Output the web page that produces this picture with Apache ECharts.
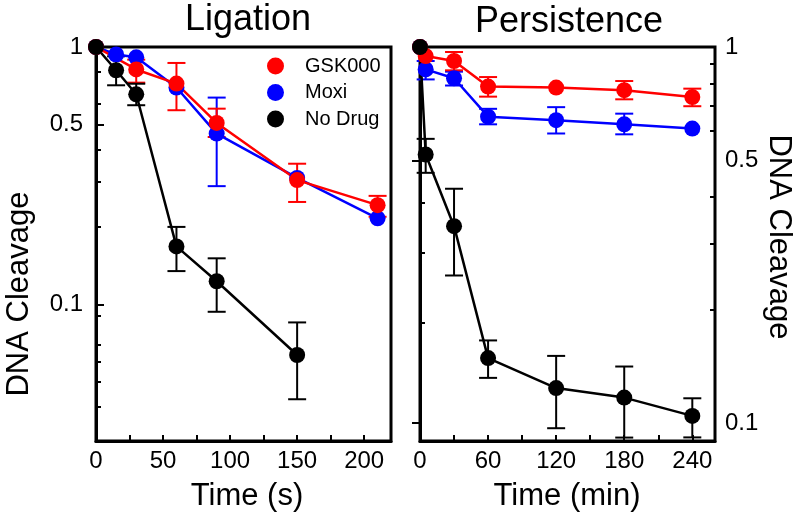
<!DOCTYPE html>
<html>
<head>
<meta charset="utf-8">
<script src="https://cdn.jsdelivr.net/npm/echarts@6/dist/echarts.min.js"></script>
<style>
html,body{margin:0;padding:0;background:#fff;}
#chart{width:800px;height:519px;}
</style>
</head>
<body>
<div id="chart"></div>
<script>
// ---------- Ligation panel (time in s) ----------
const ligGskTime  = [0, 30, 60, 90, 150, 210];
const ligGsk      = [1.0, 0.818, 0.721, 0.507, 0.304, 0.243];
const ligGskLo    = [null, 0.727, 0.568, 0.447, 0.25, 0.219];
const ligGskHi    = [null, 0.893, 0.867, 0.576, 0.352, 0.264];

const ligMoxiTime = [0, 15, 30, 60, 90, 150, 210];
const ligMoxi     = [1.0, 0.935, 0.912, 0.696, 0.461, 0.31, 0.216];
const ligMoxiLo   = [null, null, null, null, 0.288, null, null];
const ligMoxiHi   = [null, null, null, null, 0.636, null, null];

const ligNoTime   = [0, 15, 30, 60, 90, 150];
const ligNo       = [1.0, 0.812, 0.655, 0.168, 0.123, 0.0636];
const ligNoLo     = [null, 0.71, 0.594, 0.1347, 0.0936, 0.0428];
const ligNoHi     = [null, 0.92, 0.72, 0.2, 0.151, 0.0851];

// ---------- Persistence panel (time in min) ----------
const perTime     = [0, 5, 30, 60, 120, 180, 240];
const perGsk      = [1.0, 0.946, 0.918, 0.785, 0.78, 0.768, 0.736];
const perGskLo    = [null, null, 0.867, 0.738, null, 0.726, 0.696];
const perGskHi    = [null, null, 0.97, 0.832, null, 0.812, 0.775];
const perMoxi     = [1.0, 0.872, 0.826, 0.653, 0.639, 0.623, 0.607];
const perMoxiLo   = [null, 0.82, 0.79, 0.623, 0.589, 0.586, null];
const perMoxiHi   = [null, 0.918, 0.86, 0.685, 0.692, 0.665, null];
const perNo       = [1.0, 0.518, 0.334, 0.149, 0.124, 0.117, 0.1046];
const perNoLo     = [null, 0.463, 0.247, 0.132, 0.097, 0.0916, 0.0917];
const perNoHi     = [null, 0.57, 0.42, 0.166, 0.151, 0.1415, 0.1165];

// ---------- ticks & labels ----------
const ligXLabels  = [0, 50, 100, 150, 200];
const ligXTicks   = [0, 25, 50, 75, 100, 125, 150, 175, 200];
const perXLabels  = [0, 60, 120, 180, 240];
const perXTicks   = [0, 30, 60, 90, 120, 150, 180, 210, 240];
const yLabels     = [0.1, 0.5, 1];
const ligYMinor   = [0.8, 0.6, 0.4, 0.3, 0.2, 0.09, 0.07, 0.06, 0.05, 0.04];
const perYMinor   = [0.9, 0.8, 0.7, 0.6, 0.4, 0.3, 0.2];
const perLeftTicks = [0.385, 0.284, 0.185];
const seriesNames = ['GSK000', 'Moxi', 'No Drug'];
const colors      = ['#ff0000', '#0000ff', '#000000'];

const FONT = 'Liberation Sans, Arial, sans-serif';

function pairs(xs, ys) { return xs.map((x, i) => [x, ys[i]]); }
function errPairs(xs, lo, hi) {
  const out = [];
  xs.forEach((x, i) => { if (lo[i] != null && hi[i] != null) out.push([x, lo[i], hi[i]]); });
  return out;
}
function errRender(params, api) {
  const x = api.value(0), lo = api.value(1), hi = api.value(2);
  const a = api.coord([x, lo]), b = api.coord([x, hi]);
  const w = 9;
  const style = { stroke: api.visual('color'), lineWidth: 2 };
  return { type: 'group', children: [
    { type: 'line', shape: { x1: a[0], y1: a[1], x2: b[0], y2: b[1] }, style: style },
    { type: 'line', shape: { x1: a[0] - w, y1: a[1], x2: a[0] + w, y2: a[1] }, style: style },
    { type: 'line', shape: { x1: b[0] - w, y1: b[1], x2: b[0] + w, y2: b[1] }, style: style }
  ]};
}
function errSeries(name, color, data, xi, yi) {
  return { type: 'custom', name: name, xAxisIndex: xi, yAxisIndex: yi, data: data,
    renderItem: errRender, itemStyle: { color: color }, encode: { x: 0, y: [1, 2] },
    clip: false, silent: true, z: 3 };
}
function lineSeries(name, color, data, xi, yi) {
  return { type: 'line', name: name, xAxisIndex: xi, yAxisIndex: yi, data: data,
    symbol: 'circle', symbolSize: 16, showSymbol: true, clip: false,
    itemStyle: { color: color }, lineStyle: { color: color, width: 2.5 }, z: 3 };
}

const axisLineStyle = { color: '#000', width: 3 };
const labelStyle = { color: '#000', fontSize: 24, fontFamily: FONT };

function xAxis(grid, max, ticks, labels) {
  return { type: 'value', gridIndex: grid, min: 0, max: max,
    axisLine: { show: true, lineStyle: axisLineStyle },
    axisTick: { show: true, inside: true, length: 6, customValues: ticks, lineStyle: { color: '#000', width: 2 } },
    axisLabel: Object.assign({ margin: 8, customValues: labels }, labelStyle),
    splitLine: { show: false } };
}
function yAxisMain(grid, min, pos, margin) {
  return { type: 'log', logBase: 10, gridIndex: grid, min: min, max: 1, position: pos,
    axisLine: { show: true, lineStyle: axisLineStyle },
    axisTick: { show: true, inside: true, length: 8, customValues: yLabels, lineStyle: { color: '#000', width: 2 } },
    axisLabel: Object.assign({ margin: margin, customValues: yLabels, formatter: v => String(v) }, labelStyle),
    splitLine: { show: false } };
}
function yAxisTicks(grid, min, pos, ticks) {
  return { type: 'log', logBase: 10, gridIndex: grid, min: min, max: 1, position: pos,
    axisLine: { show: false },
    axisTick: { show: true, inside: true, length: 5, customValues: ticks, lineStyle: { color: '#000', width: 2 } },
    axisLabel: { show: false }, splitLine: { show: false } };
}

const option = {
  animation: false,
  backgroundColor: '#fff',
  grid: [
    { left: 96, top: 47, width: 295, height: 394, show: true, borderColor: '#000', borderWidth: 3, backgroundColor: 'transparent' },
    { left: 420, top: 47, width: 295, height: 394, show: true, borderColor: '#000', borderWidth: 3, backgroundColor: 'transparent' }
  ],
  xAxis: [
    xAxis(0, 220, ligXTicks, ligXLabels),
    xAxis(1, 260, perXTicks, perXLabels)
  ],
  yAxis: [
    yAxisMain(0, 0.02946, 'left', 13),
    yAxisTicks(0, 0.02946, 'left', ligYMinor),
    yAxisMain(1, 0.0897, 'right', 10),
    yAxisTicks(1, 0.0897, 'right', perYMinor),
    yAxisTicks(1, 0.0897, 'left', perLeftTicks)
  ],
  legend: {
    data: seriesNames, orient: 'vertical', left: 267, top: 56, padding: 0,
    icon: 'circle', itemWidth: 49, itemHeight: 17, itemGap: 6.5,
    textStyle: { color: '#000', fontSize: 20, fontFamily: FONT }
  },
  graphic: [
    { type: 'text', x: 248, y: 20, style: { text: 'Ligation', font: '36px ' + FONT, fill: '#000', textAlign: 'center', textVerticalAlign: 'middle' } },
    { type: 'text', x: 569, y: 22, style: { text: 'Persistence', font: '36px ' + FONT, fill: '#000', textAlign: 'center', textVerticalAlign: 'middle' } },
    { type: 'text', x: 247, y: 496, style: { text: 'Time (s)', font: '31px ' + FONT, fill: '#000', textAlign: 'center', textVerticalAlign: 'middle' } },
    { type: 'text', x: 567, y: 496, style: { text: 'Time (min)', font: '31px ' + FONT, fill: '#000', textAlign: 'center', textVerticalAlign: 'middle' } },
    { type: 'text', x: 19, y: 294, rotation: Math.PI / 2, style: { text: 'DNA Cleavage', font: '31px ' + FONT, fill: '#000', textAlign: 'center', textVerticalAlign: 'middle' } },
    { type: 'text', x: 779, y: 237, rotation: -Math.PI / 2, style: { text: 'DNA Cleavage', font: '31px ' + FONT, fill: '#000', textAlign: 'center', textVerticalAlign: 'middle' } }
  ],
  series: [
    errSeries('Moxi', colors[1], errPairs(ligMoxiTime, ligMoxiLo, ligMoxiHi), 0, 0),
    lineSeries('Moxi', colors[1], pairs(ligMoxiTime, ligMoxi), 0, 0),
    errSeries('GSK000', colors[0], errPairs(ligGskTime, ligGskLo, ligGskHi), 0, 0),
    lineSeries('GSK000', colors[0], pairs(ligGskTime, ligGsk), 0, 0),
    errSeries('No Drug', colors[2], errPairs(ligNoTime, ligNoLo, ligNoHi), 0, 0),
    lineSeries('No Drug', colors[2], pairs(ligNoTime, ligNo), 0, 0),

    errSeries('Moxi', colors[1], errPairs(perTime, perMoxiLo, perMoxiHi), 1, 2),
    lineSeries('Moxi', colors[1], pairs(perTime, perMoxi), 1, 2),
    errSeries('GSK000', colors[0], errPairs(perTime, perGskLo, perGskHi), 1, 2),
    lineSeries('GSK000', colors[0], pairs(perTime, perGsk), 1, 2),
    errSeries('No Drug', colors[2], errPairs(perTime, perNoLo, perNoHi), 1, 2),
    lineSeries('No Drug', colors[2], pairs(perTime, perNo), 1, 2)
  ]
};

const chart = echarts.init(document.getElementById('chart'), null, { renderer: 'canvas' });
chart.setOption(option);
</script>
</body>
</html>
